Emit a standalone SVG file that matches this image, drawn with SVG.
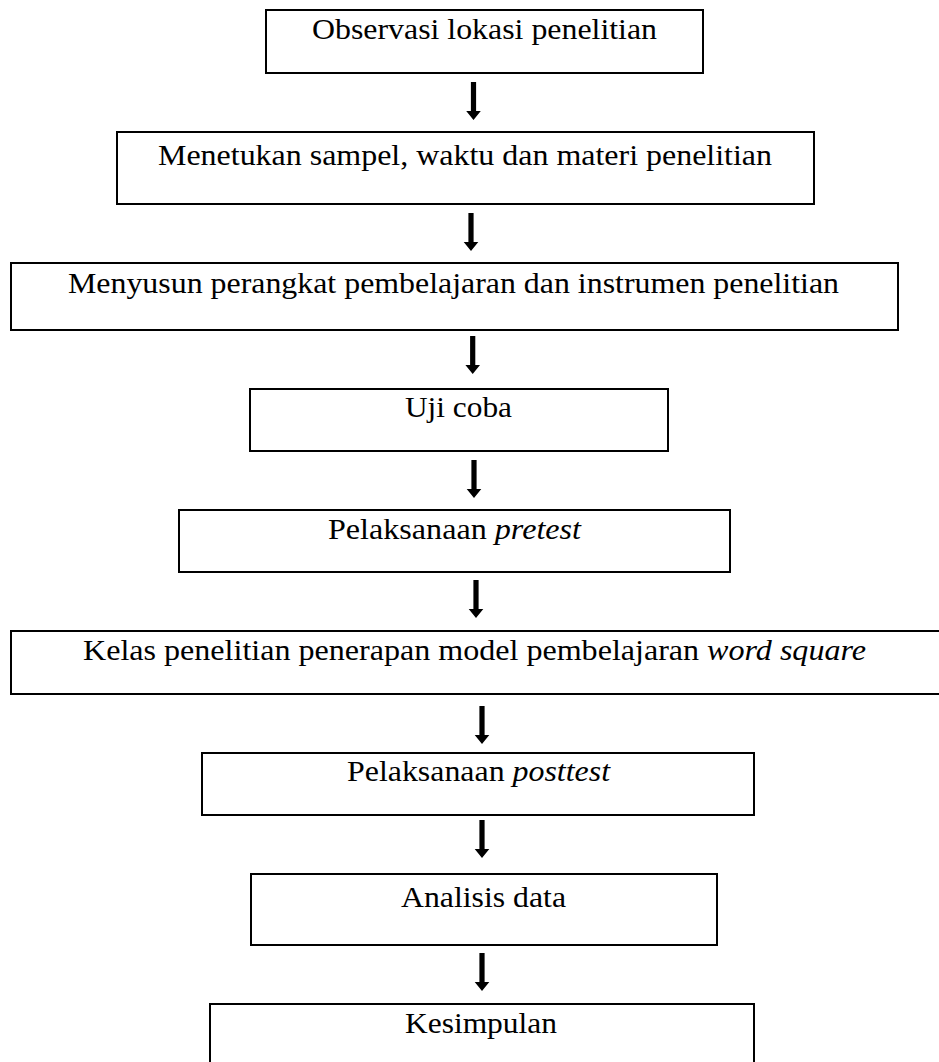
<svg xmlns="http://www.w3.org/2000/svg" xmlns:xlink="http://www.w3.org/1999/xlink" width="939" height="1062" viewBox="0 0 939 1062">
<style>
.box{fill:#fff;stroke:#000;stroke-width:2}
.t{font-family:'Liberation Serif','Times New Roman',serif;font-size:30px;fill:#000}
.i{font-style:italic}
.arr{fill:#000}
</style>
<defs>
<path id="arrow" class="arr" d="M-2.6,0 H2.6 V29 H7.3 L0,38 L-7.3,29 H-2.6 Z"/>
</defs>
<rect width="939" height="1062" fill="#fff"/>
<g id="connectors">
<use xlink:href="#arrow" transform="translate(473.5,82)"/>
<use xlink:href="#arrow" transform="translate(471,213)"/>
<use xlink:href="#arrow" transform="translate(472.7,336)"/>
<use xlink:href="#arrow" transform="translate(474,460)"/>
<use xlink:href="#arrow" transform="translate(476,580)"/>
<use xlink:href="#arrow" transform="translate(482,706)"/>
<use xlink:href="#arrow" transform="translate(482,820)"/>
<use xlink:href="#arrow" transform="translate(482,953)"/>
</g>
<g id="n1"><rect class="box" x="266" y="10" width="437" height="63"/><text class="t" x="312" y="39" textLength="345" lengthAdjust="spacingAndGlyphs">Observasi lokasi penelitian</text></g>
<g id="n2"><rect class="box" x="117" y="132" width="697" height="72"/><text class="t" x="158" y="165" textLength="614" lengthAdjust="spacingAndGlyphs">Menetukan sampel, waktu dan materi penelitian</text></g>
<g id="n3"><rect class="box" x="11" y="263" width="887" height="67"/><text class="t" x="68" y="293" textLength="771" lengthAdjust="spacingAndGlyphs">Menyusun perangkat pembelajaran dan instrumen penelitian</text></g>
<g id="n4"><rect class="box" x="250" y="389" width="418" height="62"/><text class="t" x="405" y="417" textLength="107" lengthAdjust="spacingAndGlyphs">Uji coba</text></g>
<g id="n5"><rect class="box" x="179" y="510" width="551" height="62"/><text class="t" x="328" y="539" textLength="253" lengthAdjust="spacingAndGlyphs">Pelaksanaan <tspan class="i">pretest</tspan></text></g>
<g id="n6"><rect class="box" x="11" y="631" width="960" height="63"/><text class="t" x="83" y="660" textLength="783" lengthAdjust="spacingAndGlyphs">Kelas penelitian penerapan model pembelajaran <tspan class="i">word square</tspan></text></g>
<g id="n7"><rect class="box" x="202" y="753" width="552" height="62"/><text class="t" x="347" y="781" textLength="263" lengthAdjust="spacingAndGlyphs">Pelaksanaan <tspan class="i">posttest</tspan></text></g>
<g id="n8"><rect class="box" x="251" y="874" width="466" height="71"/><text class="t" x="401" y="907" textLength="165" lengthAdjust="spacingAndGlyphs">Analisis data</text></g>
<g id="n9"><rect class="box" x="210" y="1004" width="544" height="80"/><text class="t" x="405" y="1033" textLength="152" lengthAdjust="spacingAndGlyphs">Kesimpulan</text></g>
</svg>
